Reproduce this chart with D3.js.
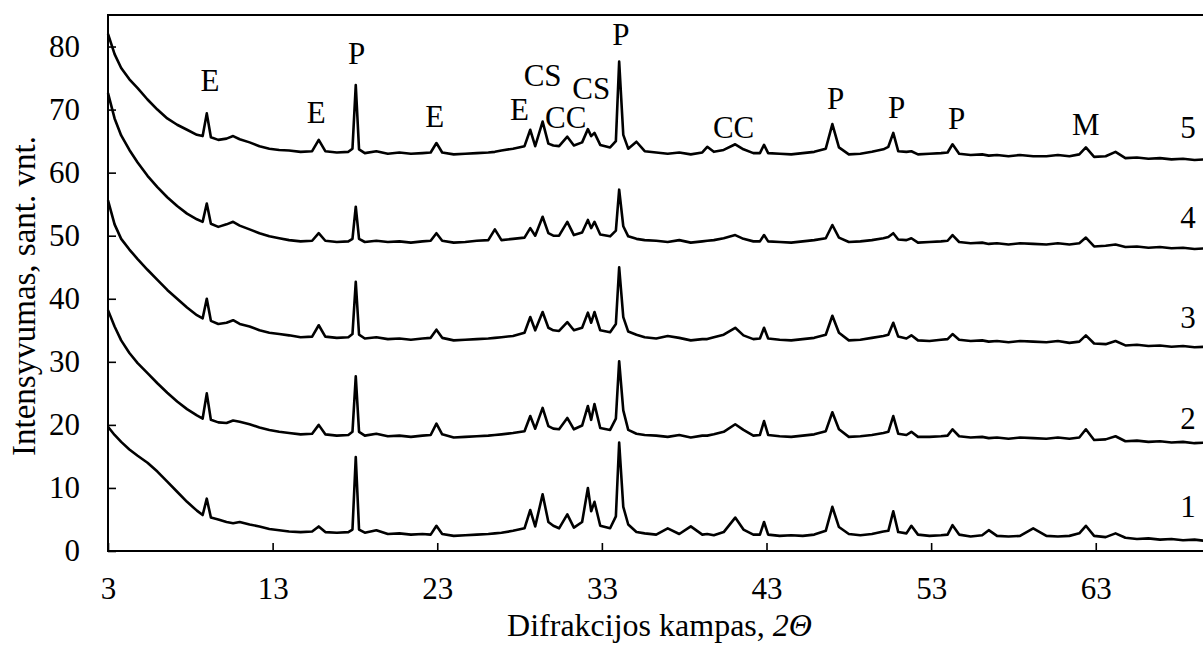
<!DOCTYPE html>
<html>
<head>
<meta charset="utf-8">
<script src="https://cdn.jsdelivr.net/npm/d3@7/dist/d3.min.js"></script>
<style>
    body { margin: 0; background: #fff; }
    svg text { font-family: "Liberation Serif", "Times New Roman", Times, serif; fill: #000; }
</style>
</head>
<body>
<div id="chart-container"></div>
<script>
// 2θ positions shared by all five patterns (denser around the peaks)
const angles = [
    3, 3.4, 3.8, 4.3, 4.8, 5.4, 6, 6.6, 7.2, 7.8,
    8.4, 8.75, 9.0, 9.25, 9.7, 10.2, 10.6, 11, 11.6, 12.2,
    12.8, 13.4, 14, 14.7, 15.4, 15.8, 16.2, 16.9, 17.6, 17.85,
    18.05, 18.25, 18.6, 19.3, 20, 20.7, 21.4, 22.1, 22.6, 22.95,
    23.3, 24, 24.7, 25.4, 26.1, 26.5, 26.9, 27.6, 28.3, 28.65,
    28.95, 29.4, 29.75, 30.05, 30.4, 30.9, 31.3, 31.8, 32.15, 32.35,
    32.55, 32.9, 33.5, 33.85, 34.05, 34.3, 34.6, 35.1, 35.6, 36.3,
    37, 37.7, 38.4, 39.1, 39.4, 39.8, 40.4, 41.1, 41.6, 42.2,
    42.6, 42.85, 43.1, 43.8, 44.5, 45.2, 45.9, 46.6, 47.0, 47.4,
    48, 48.7, 49.4, 50.1, 50.4, 50.7, 51.0, 51.5, 51.8, 52.2,
    52.9, 53.6, 54.0, 54.3, 54.7, 55.4, 56.1, 56.5, 57, 57.7,
    58.4, 59.2, 60, 60.7, 61.4, 62.0, 62.4, 62.9, 63.6, 64.2,
    64.8, 65.5, 66.2, 66.9, 67.6, 68.3, 69, 69.7, 70
];

// intensities (sant. vnt.), one array per sample
const pattern1 = [
    19.7, 18.4, 17.3, 16.1, 15.1, 14.0, 12.6, 11.0, 9.4, 7.8,
    6.4, 5.7, 8.3, 5.3, 5.0, 4.6, 4.4, 4.6, 4.2, 3.9,
    3.5, 3.3, 3.1, 3.0, 3.1, 3.9, 3.0, 2.9, 3.0, 3.4,
    14.9, 3.4, 2.9, 3.3, 2.7, 2.8, 2.6, 2.7, 2.6, 4.0,
    2.7, 2.4, 2.5, 2.6, 2.7, 2.8, 2.9, 3.2, 3.6, 6.5,
    3.9, 9.0, 4.6, 4.0, 3.6, 5.8, 3.7, 4.6, 10.0, 6.3,
    7.8, 4.0, 3.6, 5.5, 17.2, 7.0, 4.2, 3.0, 2.8, 2.6,
    3.6, 2.7, 3.9, 2.6, 2.7, 2.5, 3.0, 5.3, 3.4, 2.6,
    2.6, 4.6, 2.6, 2.4, 2.5, 2.4, 2.6, 3.2, 7.0, 3.8,
    2.7, 2.5, 2.7, 3.1, 3.2, 6.3, 3.0, 2.8, 4.0, 2.6,
    2.4, 2.5, 2.6, 4.1, 2.6, 2.3, 2.5, 3.3, 2.4, 2.3,
    2.4, 3.6, 2.4, 2.3, 2.4, 2.8, 4.0, 2.4, 2.2, 2.8,
    2.1, 1.9, 2.0, 1.8, 1.9, 1.7, 1.8, 1.6, 1.6
];
const pattern2 = [
    38.2, 35.6, 33.4, 31.4, 29.8, 28.2, 26.6, 25.1, 23.7, 22.5,
    21.5, 21.0, 25.0, 20.8, 20.4, 20.3, 20.7, 20.5, 20.1, 19.6,
    19.2, 18.9, 18.7, 18.5, 18.6, 20.0, 18.5, 18.3, 18.4, 18.9,
    27.7, 18.9, 18.3, 18.6, 18.2, 18.3, 18.1, 18.3, 18.4, 20.2,
    18.5, 18.0, 18.1, 18.2, 18.3, 18.4, 18.5, 18.7, 19.0, 21.4,
    19.4, 22.7, 19.8, 19.4, 19.3, 21.1, 19.3, 19.9, 23.0, 20.8,
    23.3, 19.5, 19.2, 21.0, 30.1, 22.3, 19.2, 18.6, 18.4, 18.3,
    18.1, 18.4, 18.0, 18.3, 18.3, 18.5, 18.9, 20.1, 19.2, 18.3,
    18.4, 20.6, 18.4, 18.2, 18.1, 18.3, 18.5, 19.0, 22.0, 19.3,
    18.1, 18.2, 18.4, 18.7, 18.9, 21.4, 18.6, 18.4, 18.9, 18.1,
    18.1, 18.2, 18.3, 19.3, 18.2, 18.0, 18.1, 17.9, 18.0, 17.8,
    18.0, 17.9, 17.8, 18.0, 17.8, 18.0, 19.3, 17.6, 17.7, 18.2,
    17.4, 17.5, 17.3, 17.4, 17.2, 17.3, 17.1, 17.2, 17.0
];
const pattern3 = [
    55.6, 51.8, 49.5, 47.8, 46.3, 44.6, 43.0, 41.4, 40.0, 38.6,
    37.4, 36.9, 40.0, 36.5, 36.0, 36.2, 36.6, 36.0, 35.6, 35.0,
    34.6, 34.4, 34.2, 33.9, 34.0, 35.8, 34.0, 33.8, 33.9, 34.4,
    42.7, 34.3, 33.7, 33.9, 33.6, 33.7, 33.5, 33.7, 33.8, 35.1,
    33.8, 33.4, 33.5, 33.6, 33.7, 33.8, 33.9, 34.1, 34.6, 37.1,
    35.0, 37.9, 35.4, 35.0, 34.9, 36.3, 35.0, 35.4, 37.8, 36.2,
    37.9, 35.0, 34.7, 36.0, 45.0, 37.1, 34.8, 34.3, 33.9, 33.7,
    34.1, 33.8, 33.4, 33.6, 33.6, 33.9, 34.3, 35.4, 34.2, 33.6,
    33.7, 35.4, 33.7, 33.5, 33.4, 33.6, 33.8, 34.3, 37.3, 34.6,
    33.4, 33.5, 33.8, 34.1, 34.3, 36.2, 34.0, 33.7, 34.2, 33.4,
    33.3, 33.5, 33.6, 34.4, 33.5, 33.3, 33.4, 33.2, 33.3, 33.1,
    33.3, 33.2, 33.1, 33.3, 33.0, 33.2, 34.2, 32.9, 32.8, 33.3,
    32.6, 32.7, 32.5, 32.6, 32.4, 32.5, 32.3, 32.4, 32.2
];
const pattern4 = [
    72.6, 68.6, 65.9, 63.6, 61.6, 59.5, 57.7, 56.1, 54.7, 53.5,
    52.6, 52.2, 55.1, 51.9, 51.4, 51.8, 52.2, 51.6, 51.0, 50.4,
    49.9, 49.6, 49.3, 49.1, 49.2, 50.4, 49.2, 49.0, 49.1, 49.5,
    54.6, 49.5, 49.0, 49.2, 49.0, 49.1, 48.9, 49.1, 49.2, 50.4,
    49.2, 48.9, 49.0, 49.2, 49.3, 51.0, 49.3, 49.5, 49.7, 51.2,
    50.0, 53.0, 50.4, 50.0, 50.0, 52.2, 50.1, 50.5, 52.5, 51.2,
    52.2, 50.2, 49.9, 50.8, 57.3, 51.5, 49.9, 49.5, 49.3, 49.2,
    49.0, 49.3, 48.9, 49.1, 49.2, 49.3, 49.6, 50.1, 49.5, 49.1,
    49.1, 50.1, 49.1, 49.0, 48.9, 49.1, 49.3, 49.6, 51.7, 49.7,
    49.0, 49.1, 49.3, 49.6, 49.8, 50.4, 49.4, 49.3, 49.6, 48.9,
    49.0, 49.1, 49.2, 50.1, 49.0, 48.8, 48.9, 48.7, 48.8, 48.6,
    48.8, 48.7, 48.6, 48.8, 48.6, 48.8, 49.7, 48.3, 48.4, 48.6,
    48.2, 48.3, 48.1, 48.2, 48.0, 48.1, 47.9, 48.0, 47.8
];
const pattern5 = [
    82.0, 78.8, 76.6, 74.8, 73.4, 71.6, 70.0, 68.6, 67.6, 66.8,
    66.0, 65.8, 69.4, 65.6, 65.2, 65.4, 65.8, 65.3, 64.8, 64.2,
    63.8, 63.6, 63.5, 63.3, 63.4, 65.2, 63.4, 63.2, 63.3, 63.8,
    73.9, 63.7, 63.1, 63.4, 63.0, 63.2, 63.0, 63.1, 63.2, 64.7,
    63.2, 62.9, 63.0, 63.1, 63.2, 63.3, 63.5, 63.8, 64.2, 66.8,
    64.2, 68.1, 64.6, 64.3, 64.2, 65.7, 64.3, 64.8, 66.9, 65.8,
    66.3, 64.4, 64.0, 65.0, 77.6, 66.0, 63.8, 64.9, 63.4, 63.2,
    63.0, 63.2, 62.9, 63.2, 64.1, 63.3, 63.6, 64.5, 63.7, 63.1,
    63.1, 64.4, 63.1, 63.0, 62.9, 63.1, 63.3, 63.8, 67.7, 64.0,
    62.9, 63.0, 63.3, 63.7, 64.1, 66.3, 63.4, 63.3, 63.4, 62.9,
    63.0, 63.1, 63.2, 64.5, 63.0, 62.8, 62.9, 62.7, 62.8, 62.6,
    62.8, 62.6, 62.6, 62.8, 62.6, 62.9, 64.0, 62.5, 62.6, 63.3,
    62.3, 62.4, 62.2, 62.3, 62.1, 62.2, 62.0, 62.1, 61.9
];

// sample numbers written at the right end of each pattern
const sampleNames = ["1", "2", "3", "4", "5"];
const sampleNameAngle = 68.6;
const sampleNameLevels = [5.4, 19.4, 35.3, 51.2, 65.5];

// phase marks above the top pattern (anchor in 2θ / intensity units)
const peakLabels = ["E", "E", "P", "E", "E", "CS", "CC", "CS", "P", "CC", "P", "P", "P", "M"];
const peakAngles = [9.2, 15.65, 18.1, 22.85, 28.0, 29.4, 30.8, 32.35, 34.15, 41.0, 47.2, 50.9, 54.55, 62.4];
const peakLevels = [72.9, 67.9, 77.3, 67.3, 68.4, 73.8, 67.1, 71.7, 80.2, 65.5, 70.1, 68.6, 67.0, 66.0];

const xTicks = [3, 13, 23, 33, 43, 53, 63];
const yTicks = [0, 10, 20, 30, 40, 50, 60, 70, 80];

const patterns = [pattern1, pattern2, pattern3, pattern4, pattern5];

// Set up dimensions (plot box runs a little past the right edge of the picture)
const margin = { top: 15, left: 108 };
const width = 1103;
const height = 536;
const serif = "'Liberation Serif', 'Times New Roman', Times, serif";

const svg = d3.select("#chart-container")
    .append("svg")
    .attr("width", 1203)
    .attr("height", 650)
    .attr("font-family", serif)
    .style("background", "#fff");

const g = svg.append("g")
    .attr("transform", `translate(${margin.left},${margin.top})`);

// Scales
const xScale = d3.scaleLinear().domain([3, 70]).range([0, width]);
const yScale = d3.scaleLinear().domain([0, 85]).range([height, 0]);

// Axes with inward ticks
const xAxis = d3.axisBottom(xScale).tickValues(xTicks).tickSize(-8).tickPadding(26).tickFormat(d3.format("d"));
const yAxis = d3.axisLeft(yScale).tickValues(yTicks).tickSize(-8).tickPadding(28).tickFormat(d3.format("d"));

const gx = g.append("g")
    .attr("transform", `translate(0,${height})`)
    .call(xAxis);
const gy = g.append("g").call(yAxis);

[gx, gy].forEach(a => {
    a.attr("font-family", serif).attr("font-size", 31);
    a.select(".domain").remove();
    a.selectAll(".tick line").attr("stroke", "#000").attr("stroke-width", 1.6);
    a.selectAll(".tick text").attr("fill", "#000");
});

// Plot frame
g.append("rect")
    .attr("x", 0)
    .attr("y", 0)
    .attr("width", width)
    .attr("height", height)
    .attr("fill", "none")
    .attr("stroke", "#000")
    .attr("stroke-width", 2);

// Line generator
const line = d3.line()
    .x((d, i) => xScale(angles[i]))
    .y(d => yScale(d));

g.selectAll(".pattern")
    .data(patterns)
    .enter().append("path")
    .attr("class", "pattern")
    .attr("fill", "none")
    .attr("stroke", "#000")
    .attr("stroke-width", 2.6)
    .attr("stroke-linejoin", "round")
    .attr("d", line);

// Sample numbers
g.selectAll(".sample-name")
    .data(sampleNames)
    .enter().append("text")
    .attr("class", "sample-name")
    .attr("x", xScale(sampleNameAngle))
    .attr("y", (d, i) => yScale(sampleNameLevels[i]))
    .attr("text-anchor", "middle")
    .style("font-size", "31px")
    .text(d => d);

// Phase labels
g.selectAll(".peak-label")
    .data(peakLabels)
    .enter().append("text")
    .attr("class", "peak-label")
    .attr("x", (d, i) => xScale(peakAngles[i]))
    .attr("y", (d, i) => yScale(peakLevels[i]))
    .attr("text-anchor", "middle")
    .style("font-size", "31px")
    .text(d => d);

// Axis titles
const xTitle = svg.append("text")
    .attr("x", margin.left + width / 2)
    .attr("y", 636)
    .attr("text-anchor", "middle")
    .style("font-size", "32px");
xTitle.append("tspan").text("Difrakcijos kampas, ");
xTitle.append("tspan").style("font-style", "italic").text("2Θ");

svg.append("text")
    .attr("transform", "translate(35,296) rotate(-90)")
    .attr("text-anchor", "middle")
    .style("font-size", "33px")
    .text("Intensyvumas, sant. vnt.");
</script>
</body>
</html>
